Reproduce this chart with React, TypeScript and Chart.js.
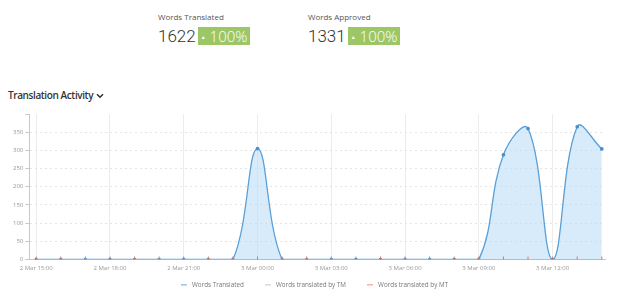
import React, { useEffect, useRef } from "react";
import { Chart, registerables } from "chart.js";

Chart.register(...registerables);

// hourly buckets, 2 Mar 15:00 -> 3 Mar 14:00
const hours = [
  "2 Mar 15:00", "2 Mar 16:00", "2 Mar 17:00", "2 Mar 18:00", "2 Mar 19:00", "2 Mar 20:00",
  "2 Mar 21:00", "2 Mar 22:00", "2 Mar 23:00", "3 Mar 00:00", "3 Mar 01:00", "3 Mar 02:00",
  "3 Mar 03:00", "3 Mar 04:00", "3 Mar 05:00", "3 Mar 06:00", "3 Mar 07:00", "3 Mar 08:00",
  "3 Mar 09:00", "3 Mar 10:00", "3 Mar 11:00", "3 Mar 12:00", "3 Mar 13:00", "3 Mar 14:00",
];
const wordsTranslated = [0, 0, 0, 0, 0, 0, 0, 0, 0, 305, 0, 0, 0, 0, 0, 0, 0, 0, 0, 288, 360, 0, 365, 304];
const wordsTM = [0, 0, 0, 0, 0, 0, 0, 0, 0, 0, 0, 0, 0, 0, 0, 0, 0, 0, 0, 0, 0, 0, 0, 0];
const wordsMT = [0, 0, 0, 0, 0, 0, 0, 0, 0, 0, 0, 0, 0, 0, 0, 0, 0, 0, 0, 0, 0, 0, 0, 0];
const yTicks = [0, 50, 100, 150, 200, 250, 300, 350];
const seriesNames = ["Words Translated", "Words translated by TM", "Words translated by MT"];
const legendColors = ["#62a9c6", "#b3cfc4", "#e8916c"];

const FONT = "'Open Sans', sans-serif";

function legendMark(color: string) {
  const c = document.createElement("canvas");
  c.width = 21;
  c.height = 3;
  const ctx = c.getContext("2d")!;
  ctx.fillStyle = color;
  ctx.fillRect(13, 1, 6, 1);
  return c;
}

export default function App() {
  const ref = useRef<HTMLCanvasElement | null>(null);

  useEffect(() => {
    if (!ref.current) return;
    const toPts = (arr: number[]) => arr.map((v, i) => ({ x: i, y: v }));
    const marks = legendColors.map(legendMark);
    const chart = new Chart(ref.current, {
      type: "line",
      data: {
        datasets: [
          {
            label: seriesNames[0],
            data: toPts(wordsTranslated),
            borderColor: "#5a9fd6",
            backgroundColor: "rgba(190,222,246,0.6)",
            pointBackgroundColor: "#4a8fcb",
            pointBorderColor: "#4a8fcb",
            pointRadius: 1.2,
            borderWidth: 1.3,
            tension: 0.4,
            fill: "origin",
            order: 2,
          },
          {
            label: seriesNames[1],
            data: toPts(wordsTM),
            borderColor: "#a9cbbd",
            backgroundColor: "#a9cbbd",
            pointRadius: 0,
            borderWidth: 1,
            fill: false,
            order: 1,
          },
          {
            label: seriesNames[2],
            data: toPts(wordsMT),
            borderColor: "#e0a088",
            backgroundColor: "#e0a088",
            pointStyle: "line",
            pointRotation: 90,
            pointRadius: 3,
            pointBorderColor: "#d4775c",
            pointBorderWidth: 1,
            borderWidth: 1,
            fill: false,
            order: 0,
          },
        ],
      },
      options: {
        responsive: false,
        animation: false,
        layout: { padding: { left: 11, right: 19, top: 6, bottom: 0 } },
        plugins: {
          tooltip: { enabled: false },
          legend: {
            position: "bottom",
            labels: {
              usePointStyle: true,
              pointStyleWidth: 21,
              boxHeight: 5,
              padding: 8,
              color: "#777",
              font: { family: FONT, size: 6.3 },
              generateLabels: (ch: any) => {
                const items = Chart.defaults.plugins.legend.labels.generateLabels(ch);
                return items
                  .sort((a: any, b: any) => a.datasetIndex - b.datasetIndex)
                  .map((it: any) => ({ ...it, pointStyle: marks[it.datasetIndex], rotation: 0 }));
              },
            },
          },
        },
        scales: {
          x: {
            type: "linear",
            min: -0.28,
            max: 23.13,
            afterBuildTicks: (axis: any) => {
              axis.ticks = hours.map((_, i) => ({ value: i }));
            },
            ticks: {
              autoSkip: false,
              maxRotation: 0,
              color: "#999",
              font: { family: FONT, size: 6 },
              padding: 2,
              callback: (v: any) => (Number(v) % 3 === 0 ? hours[Number(v)] : ""),
            },
            grid: {
              color: (ctx: any) => (ctx.tick && ctx.tick.value % 3 === 0 ? "#ececec" : "rgba(0,0,0,0)"),
              tickColor: "rgba(0,0,0,0)",
              tickLength: 3,
            },
            border: { color: "#c8c8c8" },
          },
          y: {
            min: 0,
            max: 400,
            afterBuildTicks: (axis: any) => {
              axis.ticks = [...yTicks, 400].map((v) => ({ value: v }));
            },
            ticks: {
              color: "#999",
              font: { family: FONT, size: 6 },
              padding: 2,
              callback: (v: any) => (yTicks.includes(Number(v)) ? String(v) : ""),
            },
            grid: {
              color: (ctx: any) => (ctx.tick && ctx.tick.value === 400 ? "rgba(0,0,0,0)" : "#e4e4e4"),
              tickColor: "#c8c8c8",
              tickLength: 4,
              tickBorderDash: [],
            },
            border: { color: "#c8c8c8", dash: [2, 3] },
          },
        },
      } as any,
    });
    return () => chart.destroy();
  }, []);

  const badge: React.CSSProperties = {
    position: "absolute",
    top: 27,
    height: 18,
    width: 52,
    background: "#9dc767",
    color: "#fff",
    fontFamily: FONT,
    fontWeight: 300,
    fontSize: 15,
    lineHeight: "18px",
    textAlign: "center",
    whiteSpace: "nowrap",
  };
  const small: React.CSSProperties = {
    position: "absolute",
    top: 11,
    fontFamily: FONT,
    fontSize: 8,
    color: "#555",
    whiteSpace: "nowrap",
  };
  const big: React.CSSProperties = {
    position: "absolute",
    top: 25,
    fontFamily: "Roboto, sans-serif",
    fontWeight: 300,
    fontSize: 17,
    lineHeight: "22px",
    color: "#333",
    whiteSpace: "nowrap",
  };
  const tri = <span style={{ fontSize: 5, verticalAlign: "3px", marginRight: 4 }}>▲</span>;

  return (
    <div style={{ position: "absolute", left: 0, top: 0, width: 624, height: 292, background: "#fff", overflow: "hidden" }}>
      <div style={{ ...small, left: 158 }}>Words Translated</div>
      <div style={{ ...big, left: 158 }}>1622</div>
      <div style={{ ...badge, left: 198 }}>{tri}100%</div>
      <div style={{ ...small, left: 308 }}>Words Approved</div>
      <div style={{ ...big, left: 308 }}>1331</div>
      <div style={{ ...badge, left: 348 }}>{tri}100%</div>
      <div
        style={{
          position: "absolute",
          left: 8,
          top: 88,
          fontFamily: FONT,
          fontWeight: 600,
          fontSize: 10,
          letterSpacing: "-0.4px",
          color: "#333",
          whiteSpace: "nowrap",
        }}
      >
        Translation Activity
      </div>
      <svg style={{ position: "absolute", left: 96, top: 93 }} width={8} height={6} viewBox="0 0 8 6">
        <path d="M1 1.2 L4 4.2 L7 1.2" fill="none" stroke="#333" strokeWidth={1.6} />
      </svg>
      <div style={{ position: "absolute", left: 0, top: 108, width: 624, height: 190 }}>
        <canvas ref={ref} width={624} height={190} />
      </div>
    </div>
  );
}
